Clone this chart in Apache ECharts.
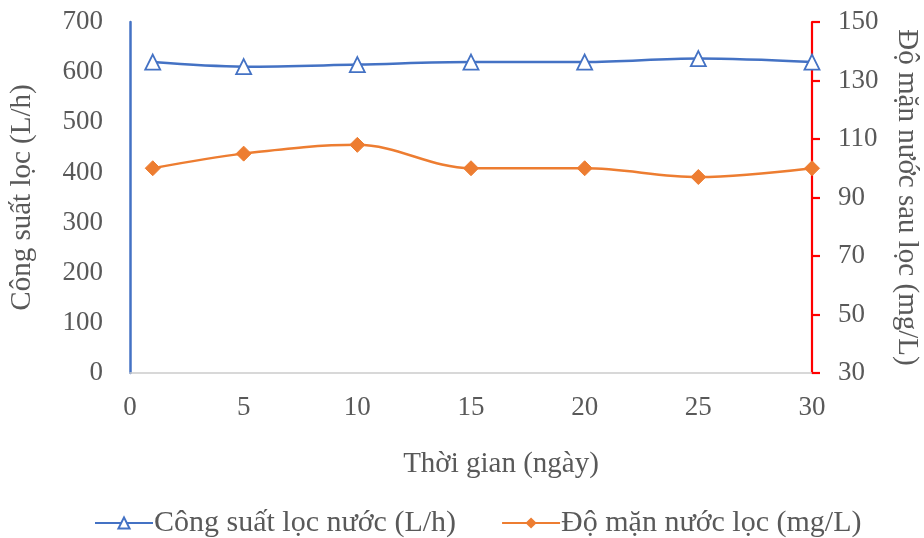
<!DOCTYPE html>
<html>
<head>
<meta charset="utf-8">
<script src="https://cdn.jsdelivr.net/npm/echarts@6/dist/echarts.min.js"></script>
<style>
  html, body { margin: 0; padding: 0; background: #fff; }
  #chart { width: 924px; height: 538px; }
</style>
</head>
<body>
<div id="chart"></div>
<script>
// Ngày đo (trục hoành)
const days = [1, 5, 10, 15, 20, 25, 30];
// Công suất lọc nước (L/h)
const capacity = [620, 611, 615, 620, 620, 627, 620];
// Độ mặn nước sau lọc (mg/L)
const salinity = [100, 105, 108, 100, 100, 97, 100];

const capacityName = 'Công suất lọc nước (L/h)';
const salinityName = 'Độ mặn nước lọc (mg/L)';

const FONT = '"Liberation Serif", "DejaVu Serif", serif';
const TEXT = '#595959';

const chart = echarts.init(document.getElementById('chart'));
chart.setOption({
  animation: false,
  textStyle: { fontFamily: FONT },
  grid: { left: 130, right: 112, top: 22, bottom: 165, outerBoundsMode: 'none', containLabel: false },
  legend: {
    top: 503,
    left: 89,
    itemWidth: 58,
    itemHeight: 14,
    itemGap: 45,
    textStyle: { fontFamily: FONT, fontSize: 30, color: TEXT, padding: [0, 0, 0, -4] },
    data: [capacityName, salinityName]
  },
  xAxis: {
    type: 'value',
    min: 0, max: 30, interval: 5,
    name: 'Thời gian (ngày)',
    nameLocation: 'middle',
    nameGap: 77,
    nameTextStyle: { fontFamily: FONT, fontSize: 29, color: TEXT, padding: [0, 0, 0, 60] },
    axisLine: { show: true, lineStyle: { color: '#cccccc', width: 1.5 } },
    axisTick: { show: false },
    splitLine: { show: false },
    axisLabel: { fontFamily: FONT, fontSize: 27, color: TEXT, margin: 21 }
  },
  yAxis: [
    {
      type: 'value',
      min: 0, max: 700, interval: 100,
      position: 'left',
      name: 'Công suất lọc (L/h)',
      nameLocation: 'middle',
      nameGap: 93,
      nameTextStyle: { fontFamily: FONT, fontSize: 29, color: TEXT },
      axisLine: { show: true, lineStyle: { color: '#4472C4', width: 2.5 } },
      axisTick: { show: false },
      splitLine: { show: false },
      axisLabel: { fontFamily: FONT, fontSize: 27, color: TEXT, margin: 27 }
    },
    {
      type: 'value',
      min: 30, max: 150, interval: 20,
      position: 'right',
      name: 'Độ mặn nước sau lọc (mg/L)',
      nameLocation: 'middle',
      nameRotate: -90,
      nameGap: 80,
      nameTextStyle: { fontFamily: FONT, fontSize: 29, color: TEXT },
      axisLine: { show: true, lineStyle: { color: '#FF0000', width: 2.2 } },
      axisTick: { show: true, length: 8, lineStyle: { color: '#FF0000', width: 2.2 } },
      splitLine: { show: false },
      axisLabel: { fontFamily: FONT, fontSize: 27, color: TEXT, margin: 26 }
    }
  ],
  series: [
    {
      name: capacityName,
      type: 'line',
      yAxisIndex: 0,
      smooth: 0.35,
      data: days.map((d, i) => [d, capacity[i]]),
      lineStyle: { color: '#4472C4', width: 2.5 },
      itemStyle: { color: '#ffffff', borderColor: '#4472C4', borderWidth: 1.8 },
      symbol: 'triangle',
      symbolSize: 15
    },
    {
      name: salinityName,
      type: 'line',
      yAxisIndex: 1,
      smooth: 0.35,
      data: days.map((d, i) => [d, salinity[i]]),
      lineStyle: { color: '#ED7D31', width: 2.5 },
      itemStyle: { color: '#ED7D31', borderColor: '#ED7D31' },
      symbol: 'diamond',
      symbolSize: 15
    }
  ]
});
</script>
</body>
</html>
